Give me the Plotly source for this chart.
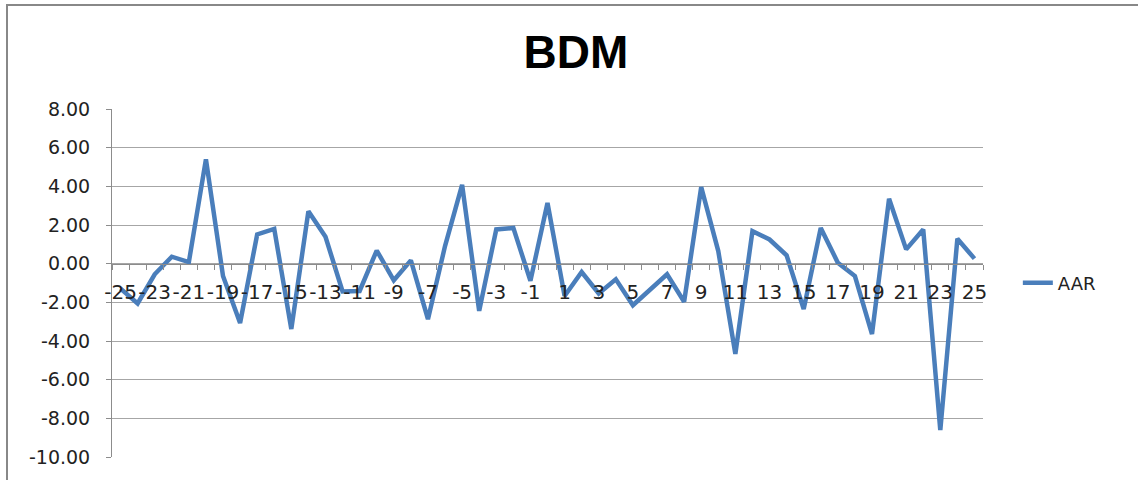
import plotly.graph_objects as go

days = list(range(-25, 26))
aar = [-1.29, -2.06, -0.55, 0.36, 0.08, 5.40, -0.64, -3.07, 1.51, 1.80,
       -3.38, 2.71, 1.39, -1.44, -1.41, 0.68, -0.86, 0.17, -2.87, 0.91,
       4.08, -2.44, 1.77, 1.85, -0.89, 3.14, -1.67, -0.43, -1.54, -0.81,
       -2.15, -1.32, -0.55, -1.97, 3.96, 0.65, -4.67, 1.68, 1.25, 0.43,
       -2.35, 1.85, 0.05, -0.64, -3.64, 3.36, 0.74, 1.77, -8.61, 1.29, 0.26]
x_tick_vals = list(range(-25, 26, 2))
x_tick_text = [str(v) for v in x_tick_vals]
y_ticks = [-10, -8, -6, -4, -2, 0, 2, 4, 6, 8]
y_tick_text = [f"{v:.2f}" for v in y_ticks]

grid = "#a6a6a6"
axis_c = "#8c8c8c"
font_fam = "DejaVu Sans"

fig = go.Figure()
fig.add_trace(go.Scatter(x=days, y=aar, mode="lines", name="AAR",
                         line=dict(color="#4a7ebb", width=4.5)))

ymin, ymax = -10, 8
fig.update_layout(
    width=1138, height=480,
    margin=dict(l=112, r=155, t=109, b=23),
    paper_bgcolor="white", plot_bgcolor="white",
    title=dict(text="<b>BDM</b>", x=(576 - 112) / 871, xref="paper", xanchor="center",
               y=1 - 52 / 480, yanchor="middle",
               font=dict(family="Liberation Sans", size=46, color="black")),
    showlegend=True,
    legend=dict(x=1.04, y=0.5, xanchor="left", yanchor="middle",
                font=dict(family=font_fam, size=18, color="#222"),
                bgcolor="rgba(0,0,0,0)"),
    xaxis=dict(range=[-25.5, 25.5], tickmode="array", tickvals=x_tick_vals,
               ticktext=x_tick_text, tickangle=0, ticks="", showgrid=False,
               zeroline=False, showline=True, linecolor=axis_c, linewidth=1,
               anchor="free", position=(0 - ymin) / (ymax - ymin),
               ticklabelstandoff=10,
               minor=dict(tick0=-25.5, dtick=1, ticks="outside", ticklen=5,
                          tickcolor=axis_c, showgrid=False),
               tickfont=dict(family=font_fam, size=20, color="#222")),
    yaxis=dict(range=[ymin, ymax], tickmode="array", tickvals=y_ticks,
               ticktext=y_tick_text, ticks="outside", ticklen=5, tickcolor=axis_c,
               showgrid=True, gridcolor=grid, gridwidth=1, zeroline=False,
               showline=True, linecolor=axis_c, linewidth=1,
               ticklabelstandoff=12,
               tickfont=dict(family=font_fam, size=19, color="#222")),
    shapes=[dict(type="rect", xref="paper", yref="paper",
                 x0=(7 - 112) / 871, x1=(1145 - 112) / 871,
                 y0=-0.2, y1=1 + (109 - 5) / 348,
                 line=dict(color="#888888", width=2), fillcolor="rgba(0,0,0,0)",
                 layer="below")],
)

fig.write_html("out.html", config={"displayModeBar": False},
               post_script="document.body.style.margin='0';document.body.style.overflow='hidden';")
